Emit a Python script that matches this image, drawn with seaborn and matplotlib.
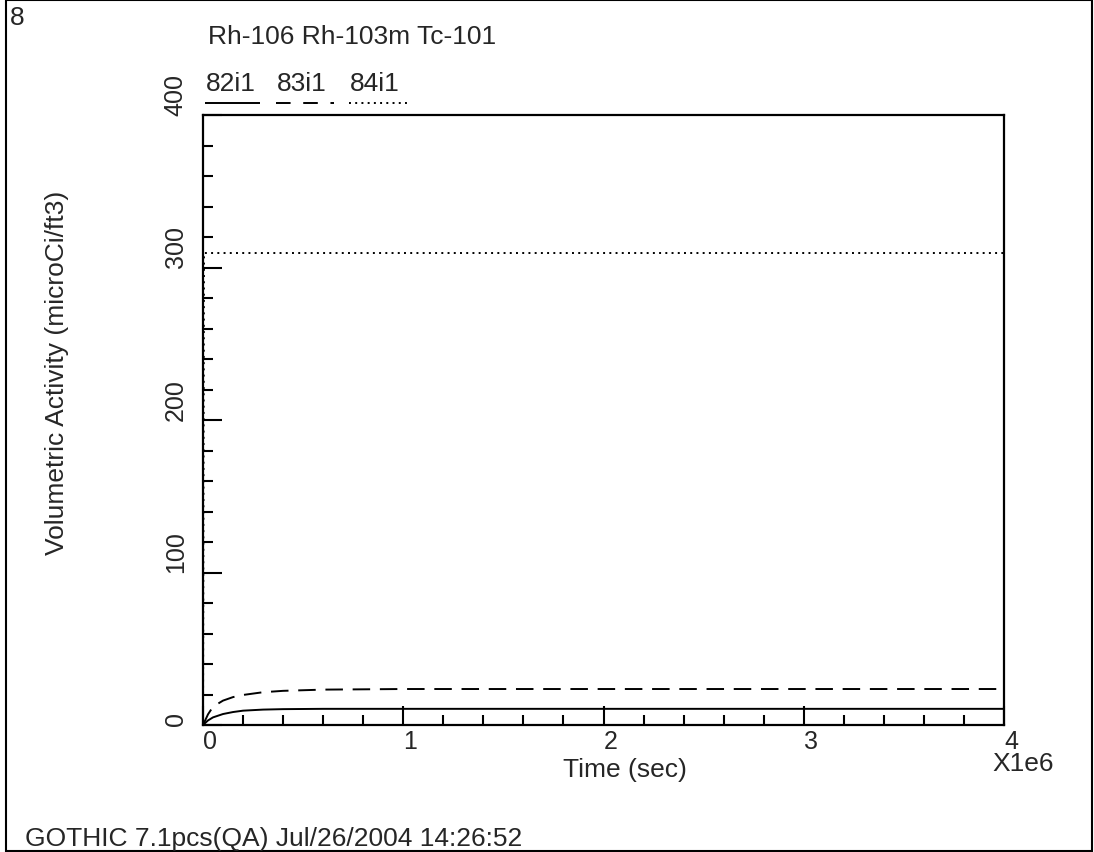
import numpy as np
import pandas as pd
import matplotlib
matplotlib.use("Agg")
import matplotlib.pyplot as plt
from matplotlib.lines import Line2D
from matplotlib.patches import Rectangle
from matplotlib.ticker import MultipleLocator
import seaborn as sns

# Volumetric activity histories (time in units of 1e6 s)
time_82 = [0.0, 0.025, 0.05, 0.1, 0.15, 0.2, 0.3, 0.4, 0.6, 1.0, 2.0, 3.0, 4.0]
act_82 = [0.0, 3.0, 5.0, 7.2, 8.5, 9.4, 10.1, 10.4, 10.6, 10.6, 10.6, 10.6, 10.6]

time_83 = [0.0, 0.025, 0.05, 0.1, 0.15, 0.2, 0.3, 0.4, 0.6, 1.0, 2.0, 3.0, 4.0]
act_83 = [0.0, 7.0, 12.0, 16.0, 18.3, 19.7, 21.5, 22.4, 23.2, 23.6, 23.6, 23.6, 23.6]

time_84 = [0.0, 0.005, 0.01, 1.0, 2.0, 3.0, 4.0]
act_84 = [0.0, 309.5, 309.5, 309.5, 309.5, 309.5, 309.5]

series_names = ["82i1", "83i1", "84i1"]
title_text = "Rh-106 Rh-103m Tc-101"
x_label = "Time (sec)"
y_label = "Volumetric Activity (microCi/ft3)"
x_ticks = [0, 1, 2, 3, 4]
y_ticks = [0, 100, 200, 300, 400]

sns.set_style("white")
plt.rcParams["font.family"] = ["Liberation Sans", "DejaVu Sans"]

FS = 19
TICK_FS = 18

frames = []
for name, t, v in zip(series_names, [time_82, time_83, time_84], [act_82, act_83, act_84]):
    frames.append(pd.DataFrame({"time": t, "activity": v, "series": name}))
df = pd.concat(frames, ignore_index=True)

W, H = 1094, 853
fig = plt.figure(figsize=(W / 100, H / 100), dpi=100)
ax = fig.add_axes([203 / W, 1 - 726 / H, (1004 - 203) / W, (726 - 116) / H])

styles = {"82i1": (0, ()), "83i1": (0, (9, 5)), "84i1": (0, (1, 2.2))}
legend_styles = {"82i1": (0, ()), "83i1": (0, (7.5, 6.5)), "84i1": (0, (1, 2.2))}
for name in series_names:
    sub = df[df["series"] == name]
    sns.lineplot(data=sub, x="time", y="activity", ax=ax, color="black",
                 linewidth=1.4, linestyle=styles[name], legend=False,
                 estimator=None, sort=False)

ax.set_xlim(0, 4)
ax.set_ylim(0, 400)
ax.xaxis.set_major_locator(MultipleLocator(1))
ax.xaxis.set_minor_locator(MultipleLocator(0.2))
ax.yaxis.set_major_locator(MultipleLocator(100))
ax.yaxis.set_minor_locator(MultipleLocator(20))
ax.tick_params(axis="both", which="both", bottom=True, left=True, top=False, right=False)
ax.tick_params(axis="both", which="major", direction="in", length=14, width=1.5,
               color="black", labelsize=TICK_FS)
ax.tick_params(axis="both", which="minor", direction="in", length=7, width=1.5,
               color="black")
ax.set_xticks(x_ticks)
ax.set_xticklabels([str(v) for v in x_ticks], ha="left")
ax.set_yticks(y_ticks)
ax.set_yticklabels([str(v) for v in y_ticks], rotation=90, va="bottom")
ax.tick_params(axis="x", which="major", pad=3)
ax.tick_params(axis="y", which="major", pad=11)
for sp in ax.spines.values():
    sp.set_color("black")
    sp.set_linewidth(1.6)
ax.set_xlabel("")
ax.set_ylabel("")

fig.text(625 / W, 1 - 770 / H, x_label, ha="center", va="center", fontsize=FS)
fig.text(57 / W, 1 - 373 / H, y_label, ha="center", va="center", rotation=90, fontsize=FS)
fig.text(1023 / W, 1 - 764 / H, "X1e6", ha="center", va="center", fontsize=FS)
fig.text(208 / W, 1 - 37 / H, title_text, ha="left", va="center", fontsize=FS)
fig.text(10 / W, 1 - 18 / H, "8", ha="left", va="center", fontsize=FS)
fig.text(25 / W, 1 - 839 / H, "GOTHIC 7.1pcs(QA) Jul/26/2004 14:26:52",
         ha="left", va="center", fontsize=FS)

# Legend: series labels with line samples beneath
leg_x = [(205, 260), (276, 334), (349, 407)]
for name, (x0, x1) in zip(series_names, leg_x):
    fig.text((x0 + 1) / W, 1 - 84 / H, name, ha="left", va="center", fontsize=FS)
    fig.add_artist(Line2D([x0 / W, x1 / W], [1 - 104 / H, 1 - 104 / H],
                          transform=fig.transFigure, color="black",
                          linewidth=1.4, linestyle=legend_styles[name]))

# Outer page frame
fig.add_artist(Rectangle((6 / W, 1 / H), (1092 - 6) / W, (852 - 1) / H,
                         transform=fig.transFigure, fill=False,
                         edgecolor="black", linewidth=1.5))

fig.savefig("out.png", dpi=100)
